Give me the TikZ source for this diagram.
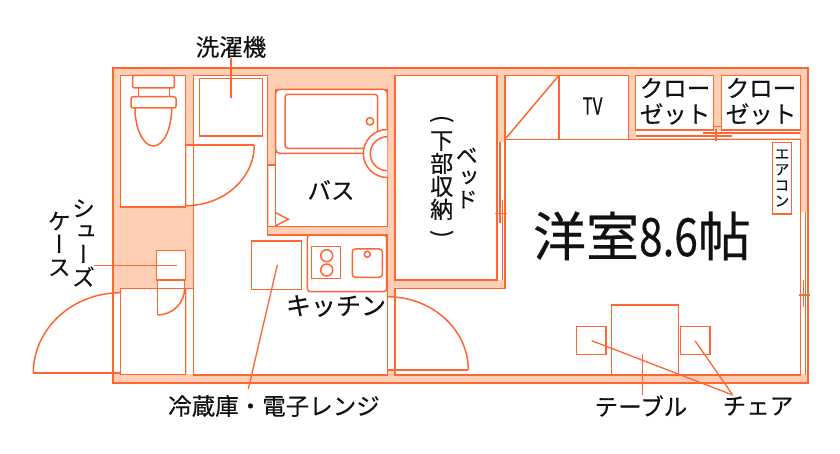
\documentclass[tikz,border=0pt]{standalone}
\usepackage{fontspec}
\usepackage{graphicx}
\setmainfont[FakeBold=0.3]{Noto Sans CJK JP}
\newfontfamily\cjkv[RawFeature={+vert},FakeBold=0.3]{Noto Sans CJK JP}
\definecolor{planline}{HTML}{FF6633}
\definecolor{planwall}{HTML}{FFCFB5}
\definecolor{plantext}{HTML}{111111}
\newcommand{\upparen}[1]{{\normalfont\rotatebox[origin=c]{-90}{#1}}}

\begin{document}
\begin{tikzpicture}[x=1pt,y=-1pt]
    \tikzstyle{plan}=[draw=planline,line width=1.5pt]
    \tikzstyle{wall}=[plan,fill=planwall]
    \tikzstyle{room}=[plan,fill=white]
    \tikzstyle{gap}=[fill=white]
    \tikzstyle{leader}=[draw=planline,line width=1.3pt]
    \tikzstyle{roomtext}=[inner sep=0pt,text=plantext,font=\fontsize{23.5}{23.5}\selectfont,align=center]
    \tikzstyle{uptext}=[roomtext,font=\cjkv\fontsize{23}{23}\selectfont]

    \useasboundingbox (0,0) rectangle (840,454);

    % walls
    \draw[wall] (113,68) rectangle (808,383);

    % rooms
    \draw[room] (120.7,75.3) rectangle (185.7,207);
    \draw[room] (193.3,75.3) -- (267.7,75.3) -- (267.7,235) -- (387.3,235) -- (387.3,375) -- (193.3,375) -- cycle;
    \draw[room] (275.7,89.3) rectangle (387.3,226.7);
    \draw[room] (395,75.3) rectangle (497,280);
    \draw[room] (505,75.3) rectangle (559,139.3);
    \draw[room] (559,75.3) rectangle (628.3,139.3);
    \draw[room] (635.3,75.3) rectangle (713.3,130);
    \draw[room] (721.7,75.3) rectangle (800.3,130);
    \draw[room] (395,288.3) -- (505,288.3) -- (505,139.3) -- (800.3,139.3) -- (800.3,375) -- (395,375) -- cycle;
    \draw[room] (120.7,288.3) rectangle (185.7,374.3);
    \draw[plan] (120.7,288.3) -- (193.3,288.3);

    % door gaps
    \fill[gap] (186.5,145) rectangle (192.5,205.7);
    \fill[gap] (186.5,289.1) rectangle (192.5,374.3);
    \fill[gap] (113.8,292.7) rectangle (119.9,373);
    \fill[gap] (268.5,165) rectangle (274.9,226);
    \fill[gap] (388.1,296.7) rectangle (394.2,370);
    \fill[gap] (497.8,141.7) rectangle (504.2,280);
    \fill[gap] (636.1,130.8) rectangle (799.5,138.5);
    \fill[gap] (801.1,212) rectangle (807.2,374.2);
    \fill[gap] (157.7,280) rectangle (184.3,288);

    % entrance
    \draw[plan] (33.3,373) -- (120.7,373);
    \draw[plan] (33.3,373) arc[start angle=180,end angle=90,x radius=87.4pt,y radius=80.3pt];
    \draw[plan] (157.7,280) -- (157.7,315);
    \draw[plan] (184.3,280) -- (184.3,288);
    \draw[plan] (157.7,315) arc[start angle=-90,end angle=0,x radius=27pt,y radius=27pt];
    \draw[room] (156.7,250.7) rectangle (185.7,280);

    % toilet
    \draw[plan] (185.7,145) -- (254.3,145);
    \draw[plan] (254.3,145) arc[start angle=0,end angle=-90,x radius=68.6pt,y radius=60.7pt];
    \draw[room,rounded corners=2pt] (132.7,75.3) rectangle (174.3,88);
    \draw[plan] (138.3,88) -- (138.3,96.7) (169.3,88) -- (169.3,96.7);
    \draw[room,rounded corners=2pt] (131,96.7) rectangle (176,108);
    \draw[plan] (135,108) .. controls (135,128) and (143,146) .. (153.3,146) .. controls (164,146) and (171.7,128) .. (171.7,108);

    % washer
    \draw[plan] (199.3,78.3) rectangle (262.3,136);

    % bath
    \draw[plan] (267.7,165) -- (275.7,165);
    \draw[plan] (267.7,165) -- (267.7,226.7) -- (275.7,226.7);
    \draw[plan,rounded corners=4pt] (275.7,89.3) rectangle (387.3,153.3);
    \draw[plan,rounded corners=3pt] (285,94.3) rectangle (377.7,148.3);
    \draw[plan] (370,121.3) circle (3.7);
    \draw[room] (387.3,129.5) arc[start angle=90,end angle=270,radius=24pt];
    \draw[plan] (387.3,136.7) arc[start angle=90,end angle=270,radius=17pt];
    \draw[plan] (275.7,212.7) -- (288.3,219.3) -- (275.7,225.7);

    % kitchen
    \draw[plan,rounded corners=3pt] (307.3,235) rectangle (386.7,291.7);
    \draw[plan] (311.7,246.7) rectangle (340.7,278.3);
    \draw[plan] (326.7,255.7) circle (6);
    \draw[plan] (326.7,270) circle (6);
    \draw[plan,rounded corners=3pt] (352.3,249) rectangle (382.3,277.3);
    \draw[plan] (367.3,254.3) circle (3);
    \draw[plan] (251.7,241) rectangle (301.7,289.3);
    \draw[plan] (387.3,296.7) arc[start angle=90,end angle=0,x radius=81pt,y radius=73.3pt];
    \draw[plan] (387.3,370) -- (468.3,370);

    % closets
    \draw[plan] (505,139.3) -- (559,75.3);
    \draw[plan] (702.7,133) -- (800.3,133);
    \draw[plan] (635.7,136) -- (731.7,136);
    \draw[plan] (716,129.3) -- (716,140.7);
    \draw[plan] (713.3,126.7) -- (721.7,126.7);
    \draw[plan] (772.7,142.3) rectangle (791.7,214);

    % sliding doors
    \draw[plan] (500,141.7) -- (500,223);
    \draw[plan] (502.3,200) -- (502.3,280);
    \draw[plan] (495,213.3) -- (506.7,213.3);
    \draw[plan] (805.7,212) -- (805.7,375);
    \draw[plan] (803.3,280) -- (803.3,306.7);
    \draw[plan] (798.7,295) -- (810,295);

    % table and chairs
    \draw[plan] (611.7,374.7) -- (611.7,305) -- (678.3,305) -- (678.3,374.7);
    \draw[plan] (576.7,326.7) rectangle (606,354.7);
    \draw[plan] (680.3,326.7) rectangle (710,354.7);

    % labels
    \node[roomtext] at (231,47) (washertext) {洗濯機};
    \node[roomtext] at (331,190) (bathtext) {バス};
    \node[roomtext,font=\fontsize{25}{25}\selectfont] at (336,306) (kitchentext) {キッチン};
    \node[roomtext] at (274,406) (fridgetext) {冷蔵庫・電子レンジ};
    \node[roomtext] at (641,406) (tabletext) {テーブル};
    \node[roomtext] at (758,406) (chairtext) {チェア};
    \node[uptext] at (83.5,243) (shoetexta) {シ\\ュ\\ー\\ズ};
    \node[uptext] at (59.3,244) (shoetextb) {ケ\\ー\\ス};
    \node[uptext] at (441.7,178) (bedtexta) {\upparen{(}\\下\\部\\収\\納\\\upparen{)}};
    \node[uptext,font=\cjkv\fontsize{22}{22}\selectfont] at (466.7,178) (bedtextb) {ベ\\ッ\\ド};
    \node[uptext,font=\cjkv\fontsize{15}{15.7}\selectfont] at (782,178) (aircontext) {エ\\ア\\コ\\ン};
    \node[roomtext] at (675,88) (closettexta) {クロー};
    \node[roomtext] at (675,114) (closettextb) {ゼット};
    \node[roomtext] at (761,88) (closettextc) {クロー};
    \node[roomtext] at (761,114) (closettextd) {ゼット};
    \node[roomtext] at (592.5,106) (tvtext) {\scalebox{0.72}[1]{TV}};
    \node[roomtext,font=\fontsize{53}{53}\selectfont] at (642,236) (roomsize) {洋室\scalebox{0.8}[1]{8.6}帖};

    % leaders
    \coordinate (washerend) at (231,98.3);
    \coordinate (fridgestart) at (248.3,389);
    \coordinate (fridgeend) at (277.3,265);
    \coordinate (shoestart) at (94,265.7);
    \coordinate (shoeend) at (177.3,265.7);
    \coordinate (chairtip) at (732.7,395);
    \coordinate (chairleft) at (591.7,340.7);
    \coordinate (chairright) at (695,340.7);
    \coordinate (tableend) at (642.7,354.3);

    \draw[leader] (washertext.south) -- (washerend);
    \draw[leader] (fridgestart) -- (fridgeend);
    \draw[leader] (shoestart) -- (shoeend);
    \draw[leader] (chairtip) -- (chairleft);
    \draw[leader] (chairtip) -- (chairright);
    \draw[leader] (tabletext.north -| tableend) -- (tableend);
\end{tikzpicture}
\end{document}
